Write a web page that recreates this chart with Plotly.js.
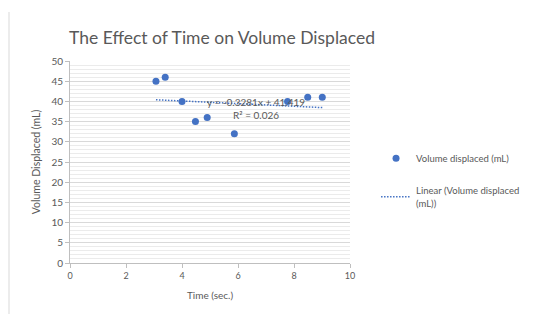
<!DOCTYPE html>
<html>
<head>
<meta charset="utf-8">
<script src="https://cdn.plot.ly/plotly-3.0.1.min.js"></script>
<style>html,body{margin:0;padding:0;background:#fff;}#chart{width:546px;height:314px;}</style>
</head>
<body>
<div id="chart"></div>
<script>
// Data
const timeSec = [3.07, 3.4, 4.0, 4.48, 4.9, 5.87, 7.77, 8.49, 9.01];
const volumeMl = [45, 46, 40, 35, 36, 32, 40, 41, 41];
// Trendline coefficients as printed on the chart
const trendSlope = -0.3281;
const trendIntercept = 41.419;
const trendR2 = 0.026;
const xTickVals = [0, 2, 4, 6, 8, 10];
const yTickVals = [0, 5, 10, 15, 20, 25, 30, 35, 40, 45, 50];

const xMin = Math.min(...timeSec), xMax = Math.max(...timeSec);
const trendX = [xMin, xMax];
const trendY = trendX.map(x => trendSlope * x + trendIntercept);

const blue = '#4472C4';
const gray = '#595959';
const font = 'Lato, "Open Sans", sans-serif';

const traces = [
  {
    x: timeSec, y: volumeMl, type: 'scatter', mode: 'markers',
    name: 'Volume displaced (mL)', legendgroup: 'a',
    marker: {color: blue, size: 7}
  },
  {
    x: trendX, y: trendY, type: 'scatter', mode: 'lines',
    name: 'Linear (Volume displaced<br>(mL))', legendgroup: 'b',
    line: {color: blue, width: 1.5, dash: '1.5px,1.5px'}
  }
];

const layout = {
  width: 546, height: 314,
  margin: {l: 70, r: 196, t: 61, b: 51},
  paper_bgcolor: '#ffffff', plot_bgcolor: '#ffffff',
  font: {family: font, color: gray, size: 9},
  title: {
    text: 'The Effect of Time on Volume Displaced',
    font: {family: font, size: 17.5, color: gray},
    x: 69/546, xanchor: 'left', xref: 'container', y: 1 - 38/314, yref: 'container', yanchor: 'middle'
  },
  xaxis: {
    range: [0, 10], tickvals: xTickVals, showgrid: false, zeroline: false,
    showline: true, linecolor: '#bfbfbf', linewidth: 1,
    ticks: 'outside', ticklen: 4, tickcolor: '#bfbfbf',
    tickfont: {size: 9, color: gray},
    title: {text: 'Time (sec.)', font: {size: 10, color: gray}, standoff: 12}
  },
  yaxis: {
    range: [0, 50], tickvals: yTickVals, showgrid: true, gridcolor: '#d9d9d9', gridwidth: 1,
    zeroline: false, showline: true, linecolor: '#bfbfbf', linewidth: 1,
    ticks: 'outside', ticklen: 4, tickcolor: '#bfbfbf',
    tickfont: {size: 10, color: gray},
    minor: {dtick: 1, showgrid: true, gridcolor: '#ebebeb', gridwidth: 1, ticks: ''},
    title: {text: 'Volume Displaced (mL)', font: {size: 10.5, color: gray}, standoff: 8}
  },
  showlegend: true,
  legend: {
    x: 1.093, xanchor: 'left', y: 0.59, yanchor: 'top',
    font: {size: 9.5, color: gray}, traceorder: 'grouped', tracegroupgap: 15,
    bgcolor: 'rgba(0,0,0,0)'
  },
  annotations: [{
    x: 6.64, y: 38.3, xref: 'x', yref: 'y',
    text: 'y = ' + trendSlope + 'x + ' + trendIntercept + '<br>R² = ' + trendR2,
    showarrow: false, font: {size: 10, color: gray}, align: 'center'
  }],
  shapes: [{
    type: 'line', xref: 'paper', yref: 'paper',
    x0: -61/280, x1: -61/280, y0: -51/202, y1: 1 + 49/202,
    line: {color: '#d9d9d9', width: 1}
  }]
};

Plotly.newPlot('chart', traces, layout, {displayModeBar: false, staticPlot: true});
</script>
</body>
</html>
